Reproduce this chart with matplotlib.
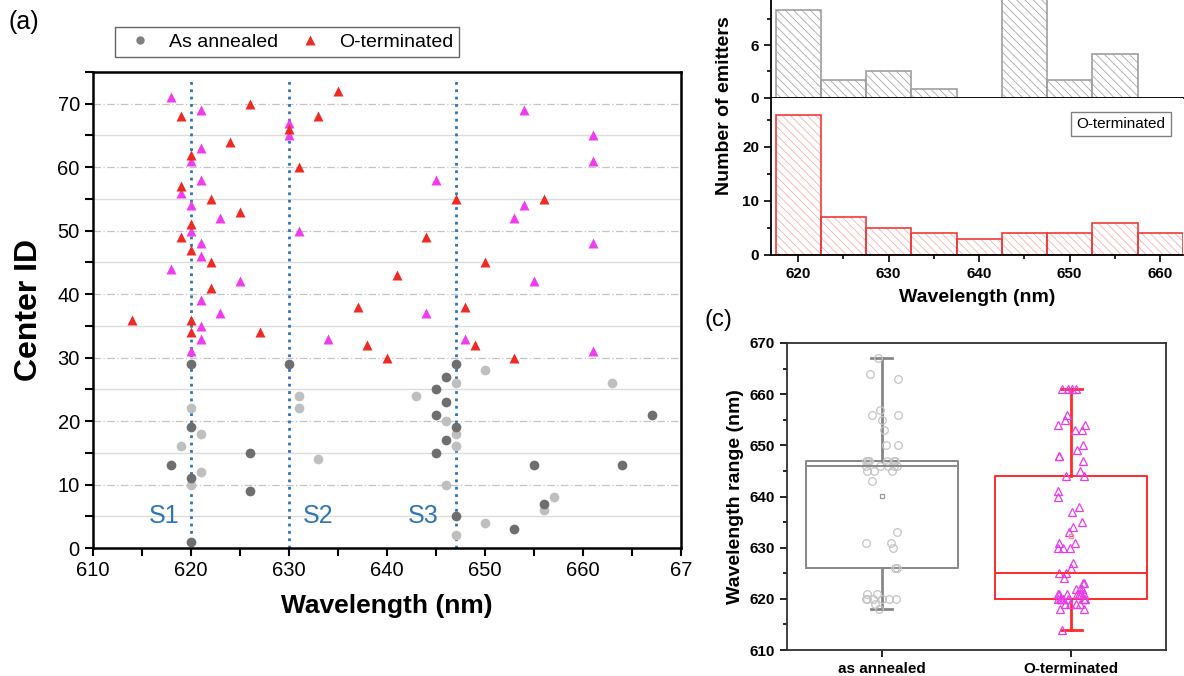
"""
Emitter wavelengths: (a) centre ID vs wavelength, (b) histograms, (c) box plot.
Saves out.png
"""
import numpy as np
import matplotlib.pyplot as plt
from matplotlib.ticker import MultipleLocator

plt.rcParams['font.family'] = ['Liberation Sans', 'DejaVu Sans']
plt.rcParams['hatch.linewidth'] = 0.6

W, H = 1184, 676

# as annealed centres (two shades = two samples)
ann_dark_wl = [620, 630, 620, 626, 618, 620, 626, 620,
               647, 646, 645, 646, 645, 667, 647, 646, 645, 655, 664, 656, 647, 653]
ann_dark_id = [29, 29, 19, 15, 13, 11, 9, 1,
               29, 27, 25, 23, 21, 21, 19, 17, 15, 13, 13, 7, 5, 3]
ann_light_wl = [631, 631, 620, 621, 619, 633, 621, 620,
                650, 647, 663, 643, 646, 647, 647, 646, 657, 656, 650, 647]
ann_light_id = [24, 22, 22, 18, 16, 14, 12, 10,
                28, 26, 26, 24, 20, 18, 16, 10, 8, 6, 4, 2]

# O-terminated centres
oterm_red_wl = [626, 619, 630, 635, 633, 624, 620, 631, 619, 622, 625, 620, 619, 620,
                622, 641, 622, 637, 614, 620, 620, 627, 638, 640,
                647, 656, 644, 650, 648, 649, 653]
oterm_red_id = [70, 68, 66, 72, 68, 64, 62, 60, 57, 55, 53, 51, 49, 47,
                45, 43, 41, 38, 36, 36, 34, 34, 32, 30,
                55, 55, 49, 45, 38, 32, 30]
oterm_mag_wl = [618, 621, 630, 630, 621, 620, 621, 619, 620, 623, 620, 631, 621, 621,
                618, 625, 621, 623, 621, 621, 634, 620,
                654, 661, 661, 645, 654, 653, 661, 655, 644, 648, 661]
oterm_mag_id = [71, 69, 67, 65, 63, 61, 58, 56, 54, 52, 50, 50, 48, 46,
                44, 42, 39, 37, 35, 33, 33, 31,
                69, 65, 61, 58, 54, 52, 48, 42, 37, 33, 31]

# spectral groups
group_wl = [620, 630, 647]
group_names = ["S1", "S2", "S3"]
group_label_x = [617.3, 633.0, 643.7]

box_labels = ["as annealed", "O-terminated"]

C_DARK = "#6e6e6e"
C_LIGHT = "#bfbfbf"
C_RED = "#ee2a24"
C_MAG = "#ee3cee"
C_BLUE = "#2e75b6"


def px_axes(fig, left, top, right, bottom):
    return fig.add_axes([left / W, 1 - bottom / H, (right - left) / W, (bottom - top) / H])


fig = plt.figure(figsize=(W / 100, H / 100), dpi=100)

# ---------------- (a) ----------------
ax = px_axes(fig, 93, 72, 681, 548)
ax.set_xlim(610, 670)
ax.set_ylim(0, 75)
for y in range(5, 75, 5):
    if y % 10 == 0:
        ax.axhline(y, color="#c4c4c4", lw=0.9, ls=(0, (6, 2, 1, 2)), zorder=0)
    else:
        ax.axhline(y, color="#dcdcdc", lw=1.0, zorder=0)

for wl, name, lx in zip(group_wl, group_names, group_label_x):
    ax.plot([wl, wl], [0, 73.8], color=C_BLUE, ls=":", lw=2.0, zorder=1)
    ax.text(lx, 5, name, color=C_BLUE, fontsize=18, ha="center", va="center")

ax.plot(ann_light_wl, ann_light_id, "o", ms=7, color=C_LIGHT, mec="none", zorder=2)
ax.plot(ann_dark_wl, ann_dark_id, "o", ms=7, color=C_DARK, mec="none", zorder=3)
ax.plot(oterm_mag_wl, oterm_mag_id, "^", ms=7.5, color=C_MAG, mec="none", zorder=3)
ax.plot(oterm_red_wl, oterm_red_id, "^", ms=7.5, color=C_RED, mec="none", zorder=4)

ax.xaxis.set_minor_locator(MultipleLocator(5))
ax.yaxis.set_major_locator(MultipleLocator(10))
ax.yaxis.set_minor_locator(MultipleLocator(5))
ax.set_xticks(range(610, 671, 10))
ax.set_xticklabels(["610", "620", "630", "640", "650", "660", "67"])
ax.tick_params(which="both", direction="out", length=6, width=1.5, labelsize=14.5)
for s in ax.spines.values():
    s.set_linewidth(1.8)
ax.set_xlabel("Wavelength (nm)", fontsize=19, fontweight="bold", labelpad=10)
ax.set_ylabel("Center ID", fontsize=23, fontweight="bold", labelpad=10)

h1, = ax.plot([], [], "o", ms=6, color="#808080", mec="none")
h2, = ax.plot([], [], "^", ms=7, color=C_RED, mec="none")
fig.legend([h1, h2], ["As annealed", "O-terminated"], loc="center",
           bbox_to_anchor=(287 / W, 1 - 42 / H), ncol=2, fontsize=14,
           frameon=True, fancybox=False, edgecolor="#404040",
           handletextpad=0.5, columnspacing=0.6, borderpad=0.3)
fig.text(8 / W, 1 - 22 / H, "(a)", fontsize=18, va="center")

# ---------------- (b) ----------------
ann_all = np.array(ann_dark_wl + ann_light_wl)
oterm_all = np.array(oterm_red_wl + oterm_mag_wl)
bins = np.arange(617.5, 663, 5)
ann_counts, _ = np.histogram(ann_all, bins=bins)
oterm_counts, _ = np.histogram(oterm_all, bins=bins)

xlim_b = (617.0, 662.5)
x_right = 771 + (xlim_b[1] - xlim_b[0]) * 9.05

# top histogram (as annealed), runs up past the figure edge
top_ymax = 11.3
ax_t = fig.add_axes([771 / W, 1 - 97.7 / H, (x_right - 771) / W, top_ymax * 8.78 / H])
ax_t.set_xlim(*xlim_b)
ax_t.set_ylim(0, top_ymax)
ax_t.bar(bins[:-1], ann_counts, width=5, align="edge", color="white",
         edgecolor="#a8a8a8", hatch="\\\\\\\\", lw=0)
ax_t.bar(bins[:-1], ann_counts, width=5, align="edge", fill=False,
         edgecolor="#a0a0a0", lw=1.2)
ax_t.yaxis.set_major_locator(MultipleLocator(6))
ax_t.yaxis.set_minor_locator(MultipleLocator(3))
ax_t.xaxis.set_major_locator(MultipleLocator(10))
ax_t.xaxis.set_minor_locator(MultipleLocator(5))
ax_t.tick_params(which="both", direction="out", width=1.2, labelsize=11)
ax_t.tick_params(which="major", length=5)
ax_t.tick_params(which="minor", length=3)
ax_t.tick_params(axis="x", labelbottom=False)
for lab in ax_t.get_yticklabels():
    lab.set_fontweight("bold")
ax_t.spines["top"].set_visible(False)
ax_t.spines["right"].set_visible(False)
for s in ("left", "bottom"):
    ax_t.spines[s].set_linewidth(1.3)

# bottom histogram (O-terminated)
ax_b = px_axes(fig, 771, 98, x_right, 255)
ax_b.set_xlim(*xlim_b)
ax_b.set_ylim(0, (255 - 98) / 5.4)
ax_b.bar(bins[:-1], oterm_counts, width=5, align="edge", color="white",
         edgecolor="#f6b0b0", hatch="\\\\\\\\", lw=0)
ax_b.bar(bins[:-1], oterm_counts, width=5, align="edge", fill=False,
         edgecolor="#f03a3a", lw=1.2)
ax_b.yaxis.set_major_locator(MultipleLocator(10))
ax_b.yaxis.set_minor_locator(MultipleLocator(5))
ax_b.xaxis.set_major_locator(MultipleLocator(10))
ax_b.xaxis.set_minor_locator(MultipleLocator(5))
ax_b.tick_params(which="both", direction="out", width=1.2, labelsize=11)
ax_b.tick_params(which="major", length=5)
ax_b.tick_params(which="minor", length=3)
for lab in ax_b.get_xticklabels() + ax_b.get_yticklabels():
    lab.set_fontweight("bold")
ax_b.spines["top"].set_visible(False)
ax_b.spines["right"].set_visible(False)
for s in ("left", "bottom"):
    ax_b.spines[s].set_linewidth(1.3)
ax_b.set_xlabel("Wavelength (nm)", fontsize=14, fontweight="bold", labelpad=6)
ax_b.text(1121 / W, 1 - 124 / H, "O-terminated", transform=fig.transFigure,
          fontsize=11, ha="center", va="center",
          bbox=dict(boxstyle="square,pad=0.35", fc="white", ec="#808080", lw=1))
fig.text(725 / W, 1 - 106 / H, "Number of emitters", rotation=90, fontsize=14,
         fontweight="bold", ha="center", va="center")

# ---------------- (c) ----------------
ax_c = px_axes(fig, 787, 343, 1166, 650)
ax_c.set_xlim(0.5, 2.5)
ax_c.set_ylim(610, 670)

groups = [ann_all, oterm_all]
box_colors = ["#878787", "#ff2a2a"]
mean_colors = ["#9a9a9a", "#ff8a8a"]
for i, (vals, bc, mc) in enumerate(zip(groups, box_colors, mean_colors)):
    q1, med, q3 = np.percentile(vals, [25, 50, 75], method="lower")
    st = dict(q1=q1, med=med, q3=q3, whislo=vals.min(), whishi=vals.max(),
              mean=vals.mean(), fliers=[])
    ax_c.bxp([st], positions=[i + 1], widths=0.8, capwidths=0.11, showmeans=True,
             boxprops=dict(color=bc, lw=1.4),
             medianprops=dict(color=bc, lw=1.4),
             whiskerprops=dict(color=bc, lw=2.0),
             capprops=dict(color=bc, lw=2.0),
             meanprops=dict(marker="s", ms=3.5, mfc="none", mec=mc, mew=0.9),
             manage_ticks=False)

# spread overlapping points sideways
ann_off = 0.085 * np.sin(np.arange(len(ann_all)) * 2.4)
oterm_off = 0.07 * np.sin(np.arange(len(oterm_all)) * 2.4)
ax_c.plot(1 + ann_off, ann_all, "o", ms=5.5, mfc="none", mec="#c4c4c4", mew=0.9)
ax_c.plot(2 + oterm_off, oterm_all, "^", ms=5.5, mfc="none", mec="#e83ce8", mew=0.9)

ax_c.set_xticks([1, 2])
ax_c.set_xticklabels(box_labels)
ax_c.yaxis.set_major_locator(MultipleLocator(10))
ax_c.yaxis.set_minor_locator(MultipleLocator(5))
ax_c.tick_params(which="both", direction="out", width=1.2, labelsize=11)
ax_c.tick_params(which="major", length=5)
ax_c.tick_params(which="minor", length=3)
ax_c.tick_params(axis="x", length=5)
for lab in ax_c.get_xticklabels() + ax_c.get_yticklabels():
    lab.set_fontweight("bold")
for s in ax_c.spines.values():
    s.set_linewidth(1.3)
    s.set_color("#303030")
ax_c.set_ylabel("Wavelength range (nm)", fontsize=14, fontweight="bold", labelpad=4)
fig.text(705 / W, 1 - 320 / H, "(c)", fontsize=17, va="center")

fig.savefig("out.png", dpi=100)
plt.close(fig)
